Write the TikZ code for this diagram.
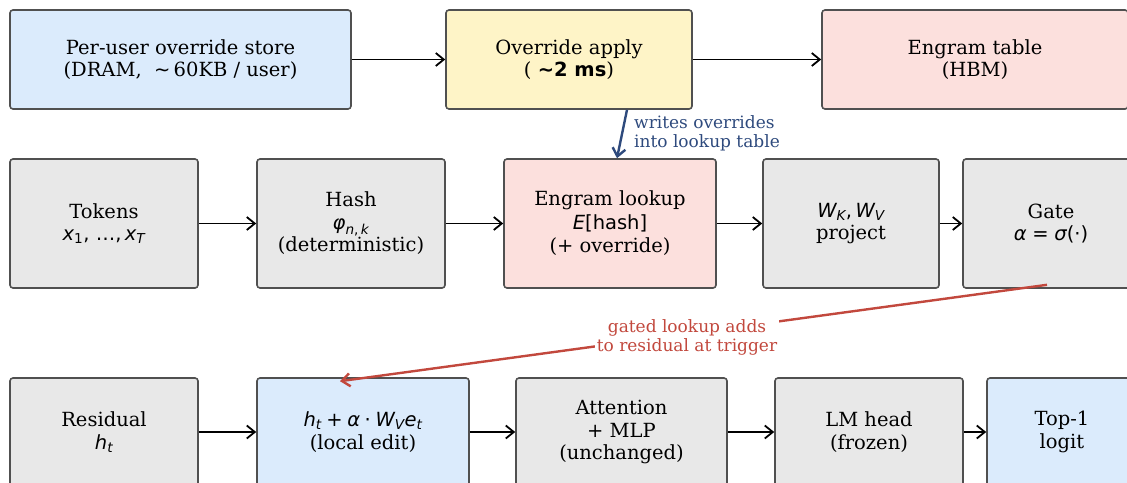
\documentclass[tikz,border=0pt]{standalone}
\usepackage{fontspec}
\usepackage{amsmath}
\setmainfont{DejaVu Serif}
\newfontfamily\dvs{DejaVu Sans}
\usetikzlibrary{arrows.meta}
\newcommand\mi[1]{\text{\dvs\itshape #1}}
\newcommand\mup[1]{\text{\dvs #1}}
\definecolor{cblue}{HTML}{DBEBFC}
\definecolor{cyellow}{HTML}{FEF4C7}
\definecolor{cpink}{HTML}{FCE0DD}
\definecolor{cgray}{HTML}{E8E8E8}
\definecolor{cborder}{HTML}{505050}
\definecolor{ablue}{HTML}{2E4A7D}
\definecolor{ared}{HTML}{C2483D}
\tikzset{
  box/.style={draw=cborder, line width=1.6pt, rounded corners=3pt, align=center,
    inner sep=0pt, font=\fontsize{19.5}{22.5}\selectfont},
  flow/.style={-{Straight Barb[length=8pt,width=13pt]}, line width=1.8pt, black},
  lbl/.style={font=\fontsize{17}{19}\selectfont}
}
\begin{document}
\begin{tikzpicture}[x=1pt,y=-1pt]
\useasboundingbox (0,0) rectangle (1127,482);
% row 1
\node[box, fill=cblue, minimum width=341pt, minimum height=99pt] (store) at (180.5,59.5)
  {Per-user override store\\(DRAM,\ \ \mup{∼}\,60KB / user)};
\node[box, fill=cyellow, minimum width=246pt, minimum height=99pt] (apply) at (569,59.5)
  {Override apply\\( {\dvs\bfseries ∼2 ms})};
\node[box, fill=cpink, minimum width=306pt, minimum height=99pt] (table) at (975,59.5)
  {Engram table\\(HBM)};
% row 2
\node[box, fill=cgray, minimum width=188pt, minimum height=129pt] (tokens) at (104,223.5)
  {Tokens\\$\mi{x}_{\mup{1}}\mup{,}\ \mup{…}\mup{,}\,\mi{x}_{\mi{T}}$};
\node[box, fill=cgray, minimum width=188pt, minimum height=129pt] (hash) at (351,223.5)
  {Hash\\$\mi{φ}_{\mi{n}\mup{,}\,\mi{k}}$\\(deterministic)};
\node[box, fill=cpink, minimum width=212pt, minimum height=129pt] (lookup) at (610,223.5)
  {Engram lookup\\[1pt]$\mi{E}\mup{[hash]}$\\[1pt](+ override)};
\node[box, fill=cgray, minimum width=176pt, minimum height=129pt] (proj) at (851,223.5)
  {$\mi{W}_{\mi{K}}\mup{,}\,\mi{W}_{\mi{V}}$\\project};
\node[box, fill=cgray, minimum width=176pt, minimum height=129pt] (gate) at (1051,223.5)
  {Gate\\$\mi{α}\mathrel{\mup{=}}\mi{σ}\mup{(·)}$};
% row 3
\node[box, fill=cgray, minimum width=188pt, minimum height=108pt] (resid) at (104,432)
  {Residual\\$\mi{h}_{\mi{t}}$};
\node[box, fill=cblue, minimum width=212pt, minimum height=108pt] (edit) at (363,432)
  {$\mi{h}_{\mi{t}}\mathbin{\mup{+}}\mi{α}\mathbin{\mup{·}}\mi{W}_{\mi{V}}\mi{e}_{\mi{t}}$\\(local edit)};
\node[box, fill=cgray, minimum width=211pt, minimum height=108pt] (attn) at (621.5,432)
  {Attention\\+ MLP\\(unchanged)};
\node[box, fill=cgray, minimum width=188pt, minimum height=108pt] (lmhead) at (869,432)
  {LM head\\(frozen)};
\node[box, fill=cblue, minimum width=150pt, minimum height=108pt] (top) at (1062,432)
  {Top-1\\logit};
% flow arrows
\draw[flow] (store) -- (apply);
\draw[flow] (apply) -- (table);
\draw[flow] (tokens) -- (hash);
\draw[flow] (hash) -- (lookup);
\draw[flow] (lookup) -- (proj);
\draw[flow] (proj) -- (gate);
\draw[flow] (resid) -- (edit);
\draw[flow] (edit) -- (attn);
\draw[flow] (attn) -- (lmhead);
\draw[flow] (lmhead) -- (top);
% blue write arrow
\coordinate (bs) at ([xshift=58pt]apply.south);
\coordinate (be) at ([xshift=7pt]lookup.north);
\draw[-{Straight Barb[length=8pt,width=13pt]}, line width=2.4pt, ablue] (bs) -- (be);
\node[lbl, text=ablue, anchor=west, align=left, inner sep=0pt] (wlbl) at (634,133.5)
  {writes overrides\\into lookup table};
% red gated arrow
\coordinate (rs) at ([xshift=-4pt,yshift=4pt]gate.south);
\coordinate (re) at ([xshift=-23pt,yshift=-4pt]edit.north);
\draw[-{Straight Barb[length=8pt,width=13pt]}, line width=2.4pt, ared] (rs) -- (re);
\node[lbl, text=ared, fill=white, align=center, inner sep=2pt] (glbl) at (687,337)
  {gated lookup adds\\to residual at trigger};
\end{tikzpicture}
\end{document}
